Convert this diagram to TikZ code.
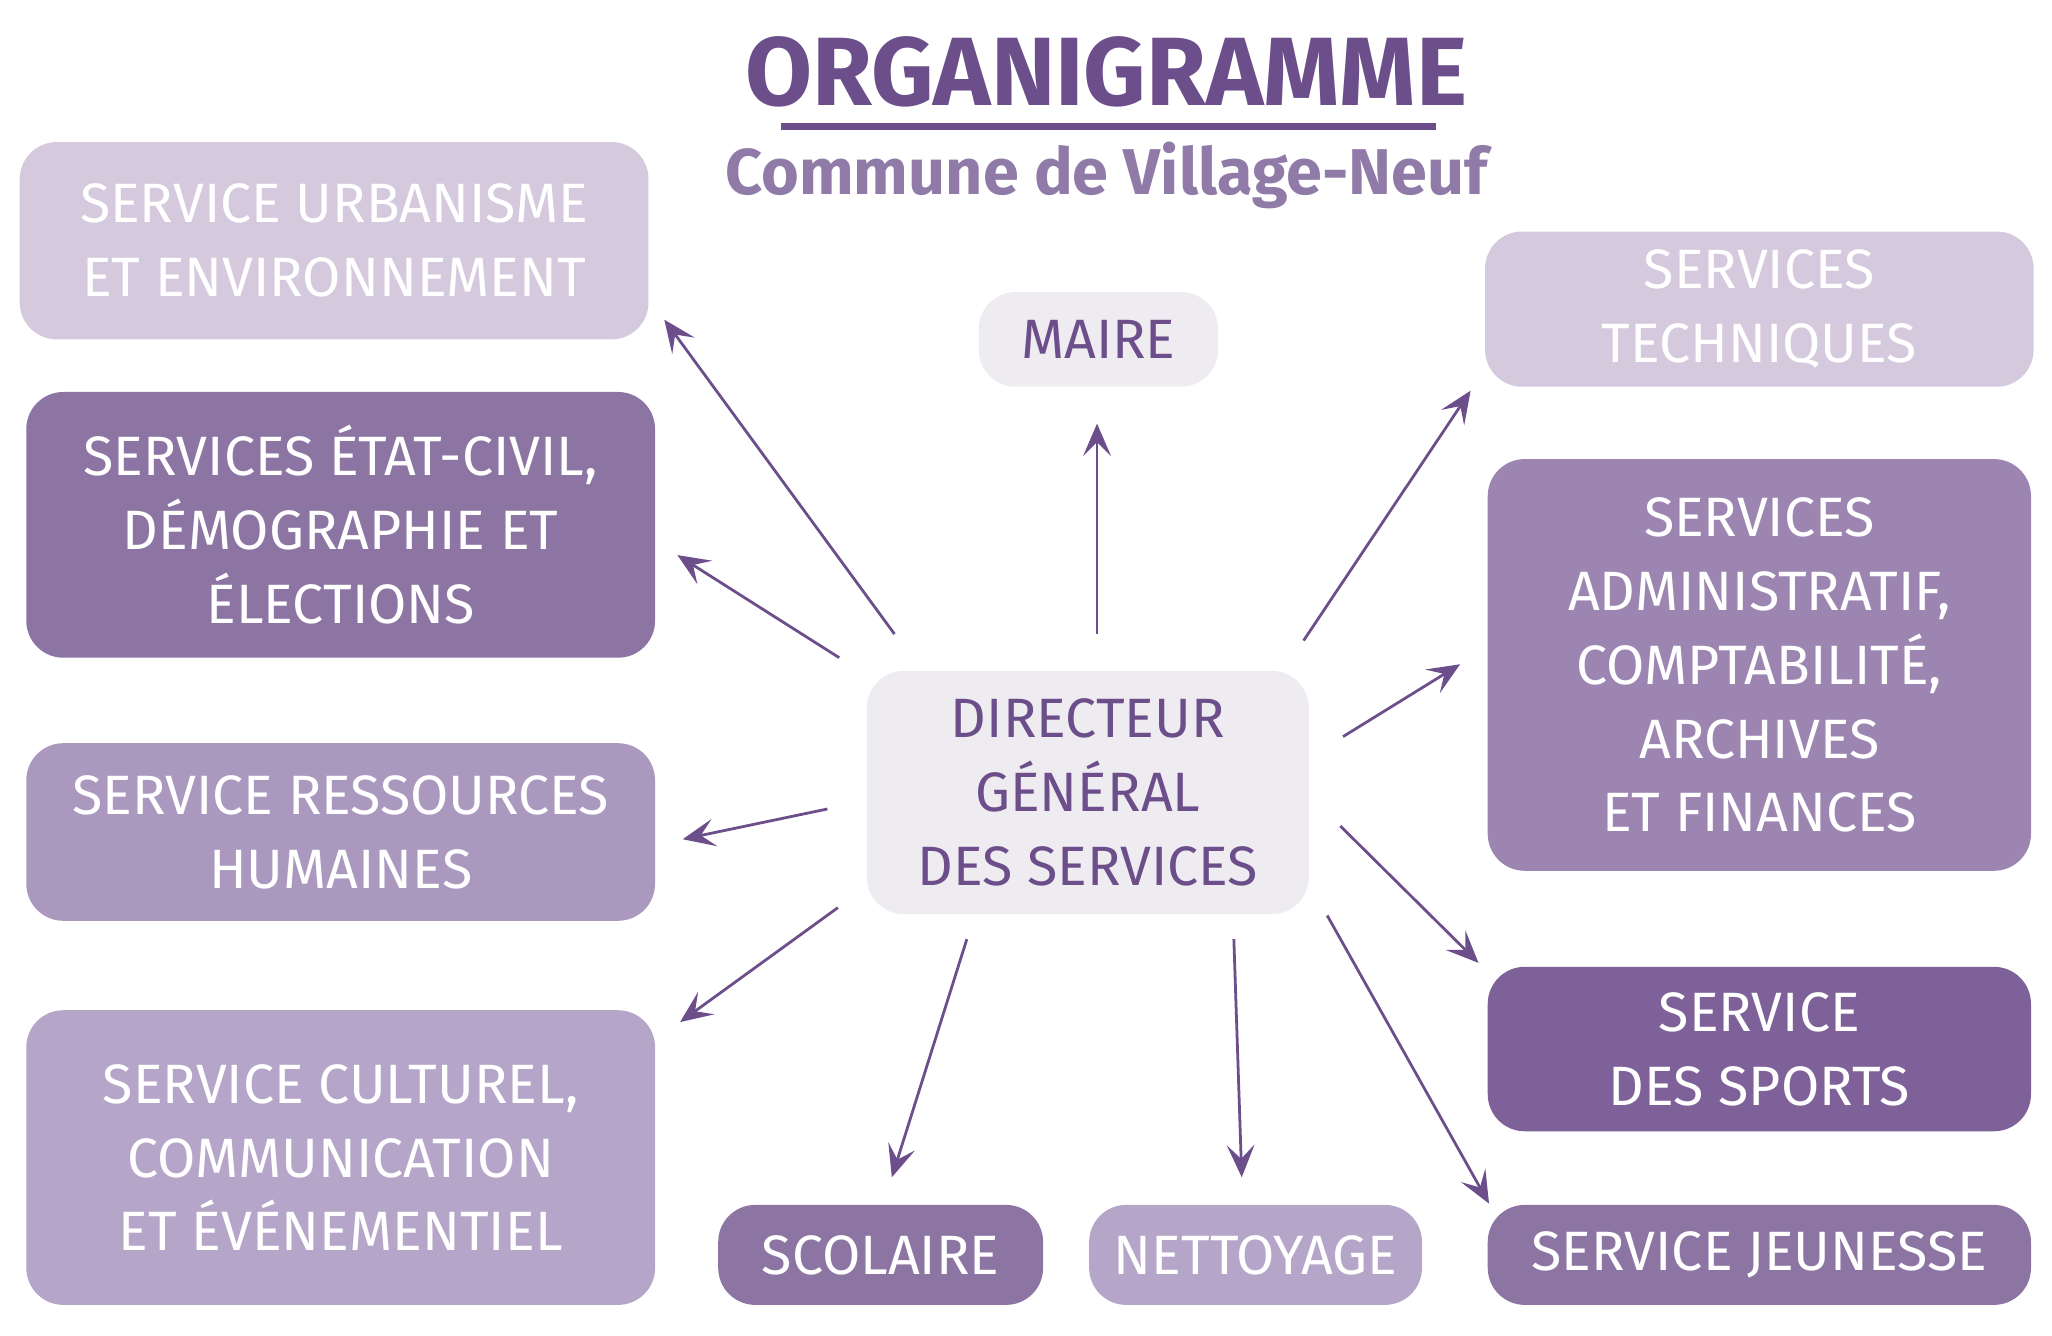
\documentclass[tikz,border=0pt]{standalone}
\usepackage{fontspec}
\setmainfont{Fira Sans}
\usetikzlibrary{arrows.meta}
\definecolor{plum}{HTML}{6B4E8A}
\definecolor{lilac}{HTML}{D5C9DD}
\definecolor{mauve}{HTML}{8C74A3}
\definecolor{heather}{HTML}{AB98BF}
\definecolor{lavend}{HTML}{B5A5C8}
\definecolor{grape}{HTML}{7E6198}
\definecolor{iris}{HTML}{9C85B1}
\definecolor{mist}{HTML}{EFECF1}
\begin{document}
\begin{tikzpicture}[box/.style = {rectangle,rounded corners=8pt,align=center,text=white,font=\fontsize{12}{16}\selectfont,inner sep=2pt},
  head/.style = {box,fill=mist,text=plum},
  arr/.style = {-{Stealth[length=7pt,width=6pt,inset=3pt]},plum,semithick}]
\useasboundingbox (0,0) rectangle (15.6,10.15);
\node[text=plum,font=\fontsize{21}{24}\selectfont\bfseries] (title) at (8.41,9.60) {ORGANIGRAMME};
\draw[plum,line width=1.4pt] (5.94,9.19) -- (10.92,9.19);
\node[text=plum!75,font=\fontsize{14}{16}\selectfont\bfseries] (sub) at (8.41,8.82) {Commune de Village-Neuf};
\node[box,fill=lilac,minimum width=4.78cm,minimum height=1.50cm] (urb) at (2.54,8.32) {SERVICE URBANISME\\ET ENVIRONNEMENT};
\node[box,fill=mauve,minimum width=4.78cm,minimum height=2.02cm] (etat) at (2.59,6.16) {SERVICES ÉTAT-CIVIL,\\DÉMOGRAPHIE ET\\ÉLECTIONS};
\node[box,fill=heather,minimum width=4.78cm,minimum height=1.35cm] (rh) at (2.59,3.825) {SERVICE RESSOURCES\\HUMAINES};
\node[box,fill=lavend,minimum width=4.78cm,minimum height=2.24cm] (cult) at (2.59,1.35) {SERVICE CULTUREL,\\COMMUNICATION\\ET ÉVÉNEMENTIEL};
\node[box,fill=mauve,minimum width=2.47cm,minimum height=0.76cm] (scol) at (6.695,0.61) {SCOLAIRE};
\node[box,fill=lavend,minimum width=2.53cm,minimum height=0.76cm] (net) at (9.545,0.61) {NETTOYAGE};
\node[box,fill=mauve,minimum width=4.13cm,minimum height=0.76cm] (jeun) at (13.375,0.61) {SERVICE JEUNESSE};
\node[box,fill=grape,minimum width=4.13cm,minimum height=1.25cm] (sport) at (13.375,2.175) {SERVICE\\DES SPORTS};
\node[box,fill=iris,minimum width=4.13cm,minimum height=3.13cm] (admin) at (13.375,5.095) {SERVICES\\ADMINISTRATIF,\\COMPTABILITÉ,\\ARCHIVES\\ET FINANCES};
\node[box,fill=lilac,minimum width=4.17cm,minimum height=1.18cm] (tech) at (13.375,7.80) {SERVICES\\TECHNIQUES};
\node[head,minimum width=1.82cm,minimum height=0.72cm] (maire) at (8.35,7.57) {MAIRE};
\node[head,minimum width=3.36cm,minimum height=1.85cm] (dir) at (8.27,4.125) {DIRECTEUR\\GÉNÉRAL\\DES SERVICES};
% arrows out of the director
\foreach \x/\y/\u/\v [count=\i] in {6.80/5.33/5.05/7.72, 6.38/5.15/5.15/5.93, 6.29/4.00/5.19/3.77,
    6.37/3.25/5.17/2.38, 7.35/3.01/6.78/1.20, 9.38/3.01/9.44/1.20, 10.09/3.19/11.32/1.00,
    10.19/3.87/11.24/2.83, 10.21/4.55/11.10/5.10, 9.91/5.28/11.18/7.18}
  {\coordinate (s\i) at (\x,\y);
   \coordinate (e\i) at (\u,\v);
   \draw[arr] (s\i) -- (e\i);}
\coordinate (mtop) at (8.34,6.93);
\coordinate (mbot) at (8.34,5.33);
\draw[arr,{Stealth[length=7pt,width=6pt,inset=3pt]}-] (mtop) -- (mbot);
\end{tikzpicture}
\end{document}
